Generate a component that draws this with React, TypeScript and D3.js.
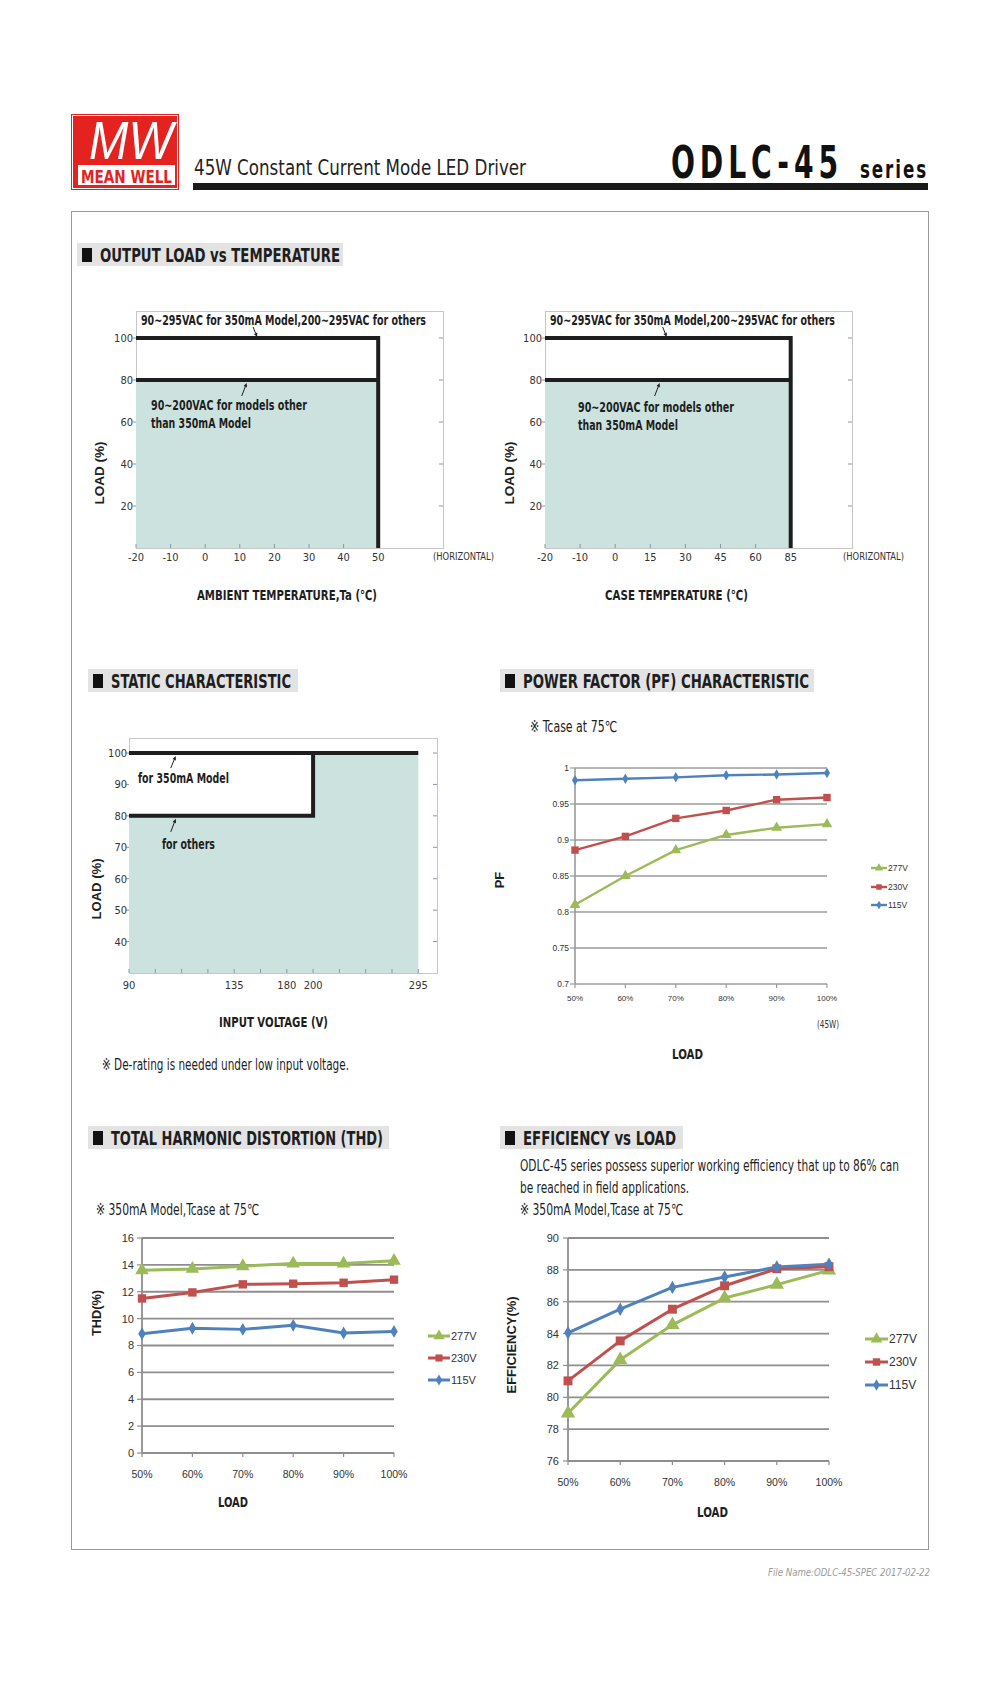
import React from "react";
import * as d3 from "d3";

const NARROW = "'Liberation Sans Narrow','DejaVu Sans Condensed','Arial Narrow',sans-serif";
const SANS = "'Liberation Sans','DejaVu Sans',Arial,sans-serif";
const INK = "#1e1e1e";
const TEAL = "#cce2de";
const TICK = "#8797ad";
const GREEN = "#9bbb59";
const RED = "#c0504d";
const BLUE = "#4f81bd";

// ---- Output load vs temperature ----
const ambientTicks = [-20, -10, 0, 10, 20, 30, 40, 50];
const caseTicks = [-20, -10, 0, 15, 30, 45, 60, 85];
const deratingLoadTicks = [20, 40, 60, 80, 100];
const ambientLimit = 50;
const caseLimit = 85;
const fullLoad = 100;
const reducedLoad = 80;

// ---- Static characteristic ----
const voltageTicks = [90, 135, 180, 200, 295];
const voltageSlots = [0, 4, 6, 7, 11];
const voltageMinorSlots = [0, 1, 2, 3, 4, 5, 6, 7, 8, 9, 10, 11];
const staticLoadTicks = [40, 50, 60, 70, 80, 90, 100];
const staticMinLoad = 30;
const lowLineVoltage = 200;

// ---- Curves ----
const loadCats = ["50%", "60%", "70%", "80%", "90%", "100%"];
const seriesNames = ["277V", "230V", "115V"];

const pf277 = [0.81, 0.85, 0.886, 0.907, 0.917, 0.922];
const pf230 = [0.886, 0.905, 0.93, 0.941, 0.956, 0.959];
const pf115 = [0.983, 0.985, 0.987, 0.99, 0.991, 0.993];
const pfTicks = [0.7, 0.75, 0.8, 0.85, 0.9, 0.95, 1];
const pfTickLabels = ["0.7", "0.75", "0.8", "0.85", "0.9", "0.95", "1"];

const thd277 = [13.6, 13.7, 13.9, 14.1, 14.1, 14.3];
const thd230 = [11.5, 11.95, 12.55, 12.6, 12.67, 12.9];
const thd115 = [8.88, 9.28, 9.2, 9.5, 8.93, 9.05];
const thdTicks = [0, 2, 4, 6, 8, 10, 12, 14, 16];

const eff277 = [79.0, 82.35, 84.55, 86.23, 87.07, 87.97];
const eff230 = [81.03, 83.54, 85.53, 87.0, 88.07, 88.2];
const eff115 = [84.05, 85.53, 86.9, 87.55, 88.18, 88.36];
const effTicks = [76, 78, 80, 82, 84, 86, 88, 90];

type Shape = d3.SymbolType;
const shapes: Shape[] = [d3.symbolTriangle, d3.symbolSquare, d3.symbolDiamond];
const colors = [GREEN, RED, BLUE];

function Arrow({ x1, y1, x2, y2 }: { x1: number; y1: number; x2: number; y2: number }) {
  const dx = x2 - x1, dy = y2 - y1;
  const len = Math.hypot(dx, dy) || 1;
  const ux = dx / len, uy = dy / len;
  const hl = 4, hw = 1.8;
  const bx = x2 - ux * hl, by = y2 - uy * hl;
  const pts = `${x2},${y2} ${bx - uy * hw},${by + ux * hw} ${bx + uy * hw},${by - ux * hw}`;
  return (
    <g>
      <line x1={x1} y1={y1} x2={bx} y2={by} stroke={INK} strokeWidth={1} />
      <polygon points={pts} fill={INK} />
    </g>
  );
}

function SectionHeader({ x, y, w, text, textW }: { x: number; y: number; w: number; text: string; textW: number }) {
  return (
    <g>
      <rect x={x} y={y} width={w} height={23} fill="#e3e3e3" />
      <rect x={x + 5} y={y + 5} width={10} height={14} fill="#111" />
      <text x={x + 23} y={y + 19} fontSize={19} fontWeight="bold" fill={INK} fontFamily={NARROW}
        textLength={textW} lengthAdjust="spacingAndGlyphs">{text}</text>
    </g>
  );
}

function NText({ x, y, len, size, bold, children, anchor, color, family, italic, spacing }: any) {
  return (
    <text x={x} y={y} fontSize={size} fontWeight={bold ? "bold" : "normal"} fill={color || INK}
      fontFamily={family || NARROW} textAnchor={anchor || "start"} fontStyle={italic ? "italic" : "normal"}
      letterSpacing={spacing || 0}
      textLength={len} lengthAdjust="spacingAndGlyphs">{children}</text>
  );
}

function Derating(p: {
  ticks: number[]; limit: number; left: number; step: number;
  note1X: number; note2X: number; note2Y: number; arrow1: number; arrow2: number;
  title: string; titleX: number; titleLen: number; yTitleX: number; horizX: number;
}) {
  const top = 311, bottom = 548, width = 307;
  const right = p.left + width;
  const x = d3.scaleLinear().domain(p.ticks).range(p.ticks.map((_, i) => p.left + i * p.step));
  const y = d3.scaleLinear().domain([0, 100]).range([bottom, 338]);
  const line = d3.line<[number, number]>().x(d => x(d[0])).y(d => y(d[1]));
  const t0 = p.ticks[0];
  const fullPath = line([[t0, fullLoad], [p.limit, fullLoad], [p.limit, 0]]) as string;
  const redPath = line([[t0, reducedLoad], [p.limit, reducedLoad]]) as string;
  const a1x = x(p.arrow1), a2x = x(p.arrow2);
  return (
    <g>
      <rect x={p.left + 0.5} y={top + 0.5} width={width} height={bottom - top} fill="#fff" stroke="#c6c6c6" />
      <rect x={x(t0)} y={y(reducedLoad)} width={x(p.limit) - x(t0)} height={y(0) - y(reducedLoad)} fill={TEAL} />
      {p.ticks.map(t => (
        <g key={t}>
          <line x1={x(t)} x2={x(t)} y1={bottom} y2={bottom - 4} stroke={TICK} />
          <NText x={x(t)} y={561} size={11} anchor="middle" color="#333">{String(t)}</NText>
        </g>
      ))}
      {deratingLoadTicks.map(v => (
        <g key={v}>
          <line x1={right - 4} x2={right} y1={y(v)} y2={y(v)} stroke={TICK} />
          <line x1={p.left - 3} x2={p.left} y1={y(v)} y2={y(v)} stroke={TICK} />
          <NText x={p.left - 3} y={y(v) + 4} size={11} anchor="end" color="#333">{String(v)}</NText>
        </g>
      ))}
      <path d={fullPath} stroke={INK} strokeWidth={4} fill="none" />
      <path d={redPath} stroke={INK} strokeWidth={4} fill="none" />
      <NText x={p.note1X} y={325} size={14} bold len={285}>90~295VAC for 350mA Model,200~295VAC for others</NText>
      <Arrow x1={a1x - 4} y1={y(fullLoad) - 11} x2={a1x} y2={y(fullLoad) - 1} />
      <NText x={p.note2X} y={p.note2Y} size={14} bold len={156}>90~200VAC for models other</NText>
      <NText x={p.note2X} y={p.note2Y + 18} size={14} bold len={100}>than 350mA Model</NText>
      <Arrow x1={a2x - 5} y1={y(reducedLoad) + 16} x2={a2x} y2={y(reducedLoad) + 3} />
      <NText x={p.horizX} y={560} size={11} len={61} color="#333">(HORIZONTAL)</NText>
      <NText x={p.titleX} y={600} size={14} bold len={p.titleLen}>{p.title}</NText>
      <text transform={`translate(${p.yTitleX},473) rotate(-90)`} textAnchor="middle" fontSize={13}
        fontWeight="bold" fontFamily={SANS} fill={INK} textLength={63} lengthAdjust="spacingAndGlyphs">LOAD (%)</text>
    </g>
  );
}

function StaticChart() {
  const left = 129, top = 738, bottom = 973, width = 308, step = 26.3;
  const right = left + width;
  const slotX = (s: number) => left + s * step;
  const x = d3.scaleLinear().domain(voltageTicks).range(voltageSlots.map(slotX));
  const y = d3.scaleLinear().domain([staticMinLoad, 100]).range([bottom, 753]);
  const line = d3.line<[number, number]>().x(d => x(d[0])).y(d => y(d[1]));
  const vMin = voltageTicks[0], vMax = voltageTicks[voltageTicks.length - 1];
  const fullPath = line([[vMin, fullLoad], [vMax, fullLoad]]) as string;
  const othersPath = line([[vMin, reducedLoad], [lowLineVoltage, reducedLoad], [lowLineVoltage, fullLoad]]) as string;
  const ax = x(110);
  return (
    <g>
      <rect x={left + 0.5} y={top + 0.5} width={width} height={bottom - top} fill="#fff" stroke="#c6c6c6" />
      <rect x={x(vMin)} y={y(fullLoad)} width={x(vMax) - x(vMin)} height={y(staticMinLoad) - y(fullLoad)} fill={TEAL} />
      <rect x={x(vMin)} y={y(fullLoad)} width={x(lowLineVoltage) - x(vMin)} height={y(reducedLoad) - y(fullLoad)} fill="#fff" />
      {voltageMinorSlots.map(s => (
        <line key={s} x1={slotX(s)} x2={slotX(s)} y1={bottom} y2={bottom - 4} stroke={TICK} />
      ))}
      {voltageTicks.map(v => (
        <NText key={v} x={x(v)} y={989} size={11} anchor="middle" color="#333">{String(v)}</NText>
      ))}
      {staticLoadTicks.map(v => (
        <g key={v}>
          <line x1={right - 4} x2={right} y1={y(v)} y2={y(v)} stroke={TICK} />
          <line x1={left - 3} x2={left} y1={y(v)} y2={y(v)} stroke={TICK} />
          <NText x={left - 2} y={y(v) + 4} size={11} anchor="end" color="#333">{String(v)}</NText>
        </g>
      ))}
      <path d={fullPath} stroke={INK} strokeWidth={4} fill="none" />
      <path d={othersPath} stroke={INK} strokeWidth={4} fill="none" />
      <Arrow x1={ax - 5} y1={y(fullLoad) + 15} x2={ax} y2={y(fullLoad) + 3} />
      <Arrow x1={ax - 5} y1={y(reducedLoad) + 16} x2={ax} y2={y(reducedLoad) + 3} />
      <NText x={138} y={783} size={14} bold len={91}>for 350mA Model</NText>
      <NText x={162} y={849} size={14} bold len={53}>for others</NText>
      <NText x={219} y={1027} size={14} bold len={109}>INPUT VOLTAGE (V)</NText>
      <text transform="translate(101,889) rotate(-90)" textAnchor="middle" fontSize={13}
        fontWeight="bold" fontFamily={SANS} fill={INK} textLength={61} lengthAdjust="spacingAndGlyphs">LOAD (%)</text>
      <NText x={102} y={1070} size={15} len={247}>※ De-rating is needed under low input voltage.</NText>
    </g>
  );
}

type Series = { name: string; values: number[]; color: string; shape: Shape };

function LineChart(p: {
  x0: number; x1: number; domain: [number, number]; yBottom: number; yTop: number;
  ticks: number[]; tickLabels: string[]; series: Series[]; lineW: number; msize: number[];
  font: number; yLabelX: number; xLabelY: number; gridColor: string; gridW: number;
  legX: number; legY: number[]; legLine: number; legFont: number; legMs: number[];
}) {
  const x = d3.scalePoint<string>().domain(loadCats).range([p.x0, p.x1]);
  const y = d3.scaleLinear().domain(p.domain).range([p.yBottom, p.yTop]);
  const line = d3.line<number>().x((_, i) => x(loadCats[i]) as number).y(d => y(d));
  return (
    <g>
      {p.ticks.map((t, i) => (
        <g key={t}>
          <line x1={p.x0} x2={p.x1} y1={y(t)} y2={y(t)} stroke={p.gridColor} strokeWidth={p.gridW} />
          <line x1={p.x0 - 5} x2={p.x0} y1={y(t)} y2={y(t)} stroke={p.gridColor} strokeWidth={1.2} />
          <text x={p.yLabelX} y={y(t) + p.font * 0.36} textAnchor="end" fontSize={p.font} fontFamily={SANS}
            fill="#333">{p.tickLabels[i]}</text>
        </g>
      ))}
      <line x1={p.x0} x2={p.x0} y1={p.yTop} y2={p.yBottom} stroke={p.gridColor} strokeWidth={p.gridW} />
      {loadCats.map(c => (
        <g key={c}>
          <line x1={x(c)} x2={x(c)} y1={p.yBottom} y2={p.yBottom + 4} stroke={p.gridColor} strokeWidth={1.2} />
          <text x={x(c)} y={p.xLabelY} textAnchor="middle" fontSize={p.font - 0.5} fontFamily={SANS} fill="#333">{c}</text>
        </g>
      ))}
      {p.series.map((s, si) => (
        <g key={s.name}>
          <path d={line(s.values) as string} fill="none" stroke={s.color} strokeWidth={p.lineW} strokeLinejoin="round" />
          {s.values.map((v, i) => (
            <path key={i} transform={`translate(${x(loadCats[i])},${y(v)})`}
              d={d3.symbol().type(s.shape).size(p.msize[si])() as string} fill={s.color} />
          ))}
        </g>
      ))}
      {p.series.map((s, si) => (
        <g key={"leg" + s.name}>
          <line x1={p.legX} x2={p.legX + p.legLine} y1={p.legY[si]} y2={p.legY[si]} stroke={s.color} strokeWidth={p.lineW} />
          <path transform={`translate(${p.legX + p.legLine / 2},${p.legY[si]})`}
            d={d3.symbol().type(s.shape).size(p.legMs[si])() as string} fill={s.color} />
          <text x={p.legX + p.legLine + 1} y={p.legY[si] + p.legFont * 0.36} fontSize={p.legFont} fontFamily={SANS}
            fill="#333">{s.name}</text>
        </g>
      ))}
    </g>
  );
}

function mkSeries(vals: number[][]): Series[] {
  return vals.map((v, i) => ({ name: seriesNames[i], values: v, color: colors[i], shape: shapes[i] }));
}

export default function App() {
  return (
    <svg width={1000} height={1689} style={{ position: "absolute", left: 0, top: 0, background: "#fff" }}
      fontFamily={NARROW}>
      <rect width={1000} height={1689} fill="#fff" />

      {/* Logo */}
      <rect x={71} y={114} width={108} height={76} fill="#e42320" />
      <rect x={72.5} y={115.5} width={105} height={73} fill="none" stroke="#fff" strokeWidth={1} />
      <text x={89} y={159} fontSize={54} fontStyle="italic" fill="#fff" fontFamily={SANS}
        textLength={84} lengthAdjust="spacingAndGlyphs">MW</text>
      <rect x={78} y={165} width={97} height={20} fill="#fff" />
      <text x={81} y={182.5} fontSize={17} fontWeight="bold" fill="#e42320" fontFamily={NARROW}
        textLength={91} lengthAdjust="spacingAndGlyphs">MEAN WELL</text>

      {/* Title */}
      <NText x={194} y={175} size={22} len={332} color="#222">45W Constant Current Mode LED Driver</NText>
      <NText x={671} y={178} size={45} bold len={172} color="#111" spacing={7}>ODLC-45</NText>
      <NText x={860} y={178} size={24} bold len={68} color="#111" spacing={2.5}>series</NText>
      <rect x={193} y={183} width={735} height={7} fill="#1a1a1a" />

      {/* Main box */}
      <rect x={71.5} y={211.5} width={857} height={1338} fill="none" stroke="#9a9a9a" />

      <SectionHeader x={77} y={243} w={266} text="OUTPUT LOAD vs TEMPERATURE" textW={240} />
      <Derating ticks={ambientTicks} limit={ambientLimit} left={136} step={34.6}
        note1X={141} note2X={151} note2Y={410} arrow1={15} arrow2={12}
        title="AMBIENT TEMPERATURE,Ta (℃)" titleX={197} titleLen={180} yTitleX={104} horizX={433} />
      <Derating ticks={caseTicks} limit={caseLimit} left={545} step={35.1}
        note1X={550} note2X={578} note2Y={412} arrow1={22} arrow2={19}
        title="CASE TEMPERATURE (℃)" titleX={605} titleLen={143} yTitleX={514} horizX={843} />

      <SectionHeader x={88} y={669} w={210} text="STATIC CHARACTERISTIC" textW={180} />
      <StaticChart />

      <SectionHeader x={500} y={669} w={314} text="POWER FACTOR (PF) CHARACTERISTIC" textW={286} />
      <NText x={530} y={732} size={15} len={87}>※ Tcase at 75℃</NText>
      <LineChart x0={575} x1={827} domain={[0.7, 1]} yBottom={984} yTop={768}
        ticks={pfTicks} tickLabels={pfTickLabels} series={mkSeries([pf277, pf230, pf115])}
        lineW={2.4} msize={[50, 55, 32]} font={8.5} yLabelX={569} xLabelY={1001}
        gridColor="#9a9a9a" gridW={1.6}
        legX={871} legY={[868, 887, 905]} legLine={16} legFont={8.5} legMs={[30, 30, 22]} />
      <NText x={817} y={1028} size={10.5} len={22} color="#333">(45W)</NText>
      <NText x={672} y={1059} size={14} bold len={31}>LOAD</NText>
      <text transform="translate(504,880) rotate(-90)" textAnchor="middle" fontSize={13}
        fontWeight="bold" fontFamily={SANS} fill={INK}>PF</text>

      <SectionHeader x={88} y={1126} w={301} text="TOTAL HARMONIC DISTORTION (THD)" textW={272} />
      <NText x={96} y={1215} size={15} len={163}>※ 350mA Model,Tcase at 75℃</NText>
      <LineChart x0={142} x1={394} domain={[0, 16]} yBottom={1453} yTop={1238}
        ticks={thdTicks} tickLabels={thdTicks.map(String)} series={mkSeries([thd277, thd230, thd115])}
        lineW={3} msize={[80, 70, 48]} font={11} yLabelX={134} xLabelY={1478}
        gridColor="#8e8e8e" gridW={1.8}
        legX={428} legY={[1336, 1358, 1380]} legLine={22} legFont={11} legMs={[55, 50, 36]} />
      <NText x={218} y={1507} size={14} bold len={30}>LOAD</NText>
      <text transform="translate(101,1313) rotate(-90)" textAnchor="middle" fontSize={13}
        fontWeight="bold" fontFamily={SANS} fill={INK} textLength={46} lengthAdjust="spacingAndGlyphs">THD(%)</text>

      <SectionHeader x={500} y={1126} w={183} text="EFFICIENCY vs LOAD" textW={153} />
      <NText x={520} y={1171} size={15} len={379}>ODLC-45 series possess superior working efficiency that up to 86% can</NText>
      <NText x={520} y={1193} size={15} len={169}>be reached in field applications.</NText>
      <NText x={520} y={1215} size={15} len={163}>※ 350mA Model,Tcase at 75℃</NText>
      <LineChart x0={568} x1={829} domain={[76, 90]} yBottom={1461} yTop={1238}
        ticks={effTicks} tickLabels={effTicks.map(String)} series={mkSeries([eff277, eff230, eff115])}
        lineW={3} msize={[90, 80, 52]} font={11} yLabelX={559} xLabelY={1486}
        gridColor="#8e8e8e" gridW={1.8}
        legX={865} legY={[1339, 1362, 1385]} legLine={23} legFont={12} legMs={[60, 55, 38]} />
      <NText x={697} y={1517} size={14} bold len={31}>LOAD</NText>
      <text transform="translate(516,1345) rotate(-90)" textAnchor="middle" fontSize={13}
        fontWeight="bold" fontFamily={SANS} fill={INK} textLength={97} lengthAdjust="spacingAndGlyphs">EFFICIENCY(%)</text>

      {/* Footer */}
      <NText x={768} y={1576} size={10} len={162} italic color="#9a9a9a">File Name:ODLC-45-SPEC   2017-02-22</NText>
    </svg>
  );
}
